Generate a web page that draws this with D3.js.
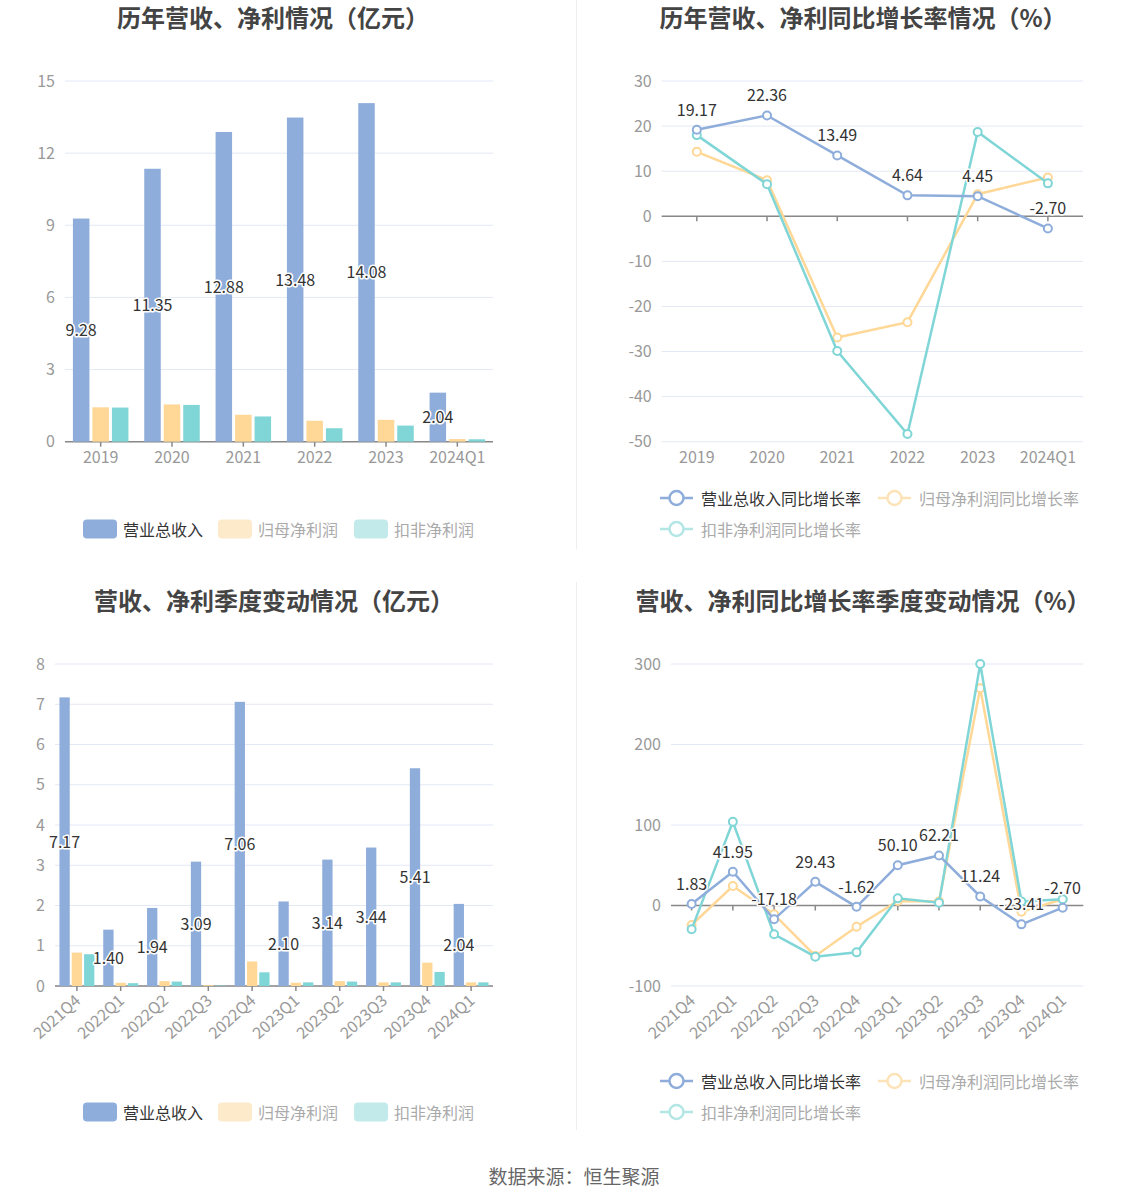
<!DOCTYPE html>
<html><head><meta charset="utf-8">
<script src="https://cdn.jsdelivr.net/npm/d3@7"></script>
<style>
body{margin:0;background:#fff;}
svg text{font-family:"Noto Sans CJK SC","Noto Sans",sans-serif;}
</style></head>
<body><svg id="c" width="1148" height="1202"></svg>
<script>
// ---- data ----
const years = ["2019","2020","2021","2022","2023","2024Q1"];
const yearRevenue = [9.28, 11.35, 12.88, 13.48, 14.08, 2.04];
const yearNetProfit = [1.43, 1.55, 1.12, 0.87, 0.91, 0.11];
const yearDeductedProfit = [1.42, 1.53, 1.05, 0.56, 0.67, 0.10];
const yearRevenueGrowth = [19.17, 22.36, 13.49, 4.64, 4.45, -2.70];
const yearNetProfitGrowth = [14.3, 8.0, -26.9, -23.5, 4.9, 8.6];
const yearDeductedGrowth = [18.0, 7.1, -29.9, -48.3, 18.7, 7.3];

const quarters = ["2021Q4","2022Q1","2022Q2","2022Q3","2022Q4","2023Q1","2023Q2","2023Q3","2023Q4","2024Q1"];
const qRevenue = [7.17, 1.40, 1.94, 3.09, 7.06, 2.10, 3.14, 3.44, 5.41, 2.04];
const qNetProfit = [0.83, 0.08, 0.12, 0.02, 0.61, 0.08, 0.12, 0.09, 0.58, 0.09];
const qDeductedProfit = [0.79, 0.07, 0.11, 0.01, 0.34, 0.09, 0.11, 0.09, 0.35, 0.09];
const qRevenueGrowth = [1.83, 41.95, -17.18, 29.43, -1.62, 50.10, 62.21, 11.24, -23.41, -2.70];
const qNetProfitGrowth = [-24.2, 24.2, -11.0, -62.7, -26.3, 5.6, 5.0, 269.8, -7.7, 7.7];
const qDeductedGrowth = [-29.6, 104.1, -35.8, -63.6, -58.2, 8.9, 3.5, 300.0, 5.0, 7.7];

const yTicks1 = [0,3,6,9,12,15];
const yTicks2 = [-50,-40,-30,-20,-10,0,10,20,30];
const yTicks3 = [0,1,2,3,4,5,6,7,8];
const yTicks4 = [-100,0,100,200,300];

const barNames = ["营业总收入","归母净利润","扣非净利润"];
const lineNames = ["营业总收入同比增长率","归母净利润同比增长率","扣非净利润同比增长率"];
const titles = ["历年营收、净利情况（亿元）","历年营收、净利同比增长率情况（%）","营收、净利季度变动情况（亿元）","营收、净利同比增长率季度变动情况（%）"];
const sourceText = "数据来源：恒生聚源";

// ---- style ----
const colors = ["#8eaddb","#ffd796","#80d5d6"];
const fadedColors = ["#8eaddb","#fdeacb","#c2eaea"];
const gridColor = "#e3e8f5";
const axisTextColor = "#999";

const svg = d3.select("#c");

// dividers
svg.append("line").attr("x1",576.5).attr("x2",576.5).attr("y1",0).attr("y2",549).attr("stroke","#eee").attr("stroke-width",1);
svg.append("line").attr("x1",576.5).attr("x2",576.5).attr("y1",582).attr("y2",1130).attr("stroke","#eee").attr("stroke-width",1);

// titles
[[273,16],[863,16],[274,599],[863,599]].forEach((p,i)=>{
  svg.append("text").attr("x",p[0]).attr("y",p[1]).attr("text-anchor","middle").attr("dominant-baseline","central")
    .attr("font-size",24).attr("font-weight","bold").attr("fill","#444").text(titles[i]);
});
svg.append("text").attr("x",574).attr("y",1175).attr("text-anchor","middle").attr("dominant-baseline","central")
  .attr("font-size",19).attr("fill","#666").text(sourceText);

function drawAxes(g, x, y, ticks, x0, x1, rotate, yBot){
  ticks.forEach(t=>{
    g.append("line").attr("x1",x0).attr("x2",x1).attr("y1",y(t)).attr("y2",y(t)).attr("stroke",gridColor).attr("stroke-width",1);
  });
  const yAxis = d3.axisLeft(y).tickValues(ticks).tickSize(0).tickPadding(10).tickFormat(d=>String(d));
  const ya = g.append("g").attr("transform",`translate(${x0},0)`).call(yAxis);
  ya.select(".domain").remove();
  ya.selectAll("text").attr("fill",axisTextColor).attr("font-size",16).style("font-family","'Noto Sans CJK SC',sans-serif");
  // axis line with ticks at zero
  const xAxis = d3.axisBottom(x).tickSize(5).tickFormat("");
  const xa = g.append("g").attr("transform",`translate(0,${y(0)})`).call(xAxis);
  xa.select(".domain").attr("stroke","#888").attr("stroke-width",1.5).attr("d",`M${x0},0H${x1}`);
  xa.selectAll(".tick line").attr("stroke","#888").attr("stroke-width",1.5);
  // labels at the bottom of the plot
  const lab = g.append("g").attr("transform",`translate(0,${yBot})`).call(d3.axisBottom(x).tickSize(0).tickPadding(rotate?0:10));
  lab.select(".domain").remove();
  lab.selectAll("text").attr("fill",axisTextColor).attr("font-size",16).style("font-family","'Noto Sans CJK SC',sans-serif");
  if(rotate){
    lab.selectAll("text").attr("text-anchor","end").attr("y",0).attr("dy","0.35em")
      .attr("transform","translate(1,12) rotate(-42)");
  }
}

function labelText(g, xp, yp, txt){
  g.append("text").attr("x",xp).attr("y",yp).attr("text-anchor","middle").attr("dominant-baseline","central")
    .attr("font-size",16).attr("fill","#333").attr("stroke","#fff").attr("stroke-width",3).attr("paint-order","stroke")
    .attr("stroke-linejoin","round").text(txt);
}

function barChart(cats, series, ticks, x0, x1, yTop, yBot, maxV, bw, gap, rotate){
  const g = svg.append("g");
  const x = d3.scaleBand().domain(cats).range([x0,x1]).padding(0);
  const y = d3.scaleLinear().domain([0,maxV]).range([yBot,yTop]);
  drawAxes(g,x,y,ticks,x0,x1,rotate,yBot);
  const total = 3*bw+2*gap;
  series.forEach((s,si)=>{
    g.selectAll(null).data(s).enter().append("rect")
      .attr("x",(d,i)=>x(cats[i])+x.bandwidth()/2-total/2+si*(bw+gap))
      .attr("y",d=>y(d)).attr("width",bw).attr("height",d=>y(0)-y(d)).attr("fill",colors[si]);
  });
  series[0].forEach((d,i)=>{
    labelText(g, x(cats[i])+x.bandwidth()/2-total/2+bw/2, (y(d)+y(0))/2 - 1, d.toFixed(2));
  });
}

function lineChart(cats, series, ticks, x0, x1, yTop, yBot, minV, maxV, rotate){
  const g = svg.append("g");
  const x = d3.scaleBand().domain(cats).range([x0,x1]).padding(0);
  const y = d3.scaleLinear().domain([minV,maxV]).range([yBot,yTop]);
  drawAxes(g,x,y,ticks,x0,x1,rotate,yBot);
  const cx = i=>x(cats[i])+x.bandwidth()/2;
  const line = d3.line().x((d,i)=>cx(i)).y(d=>y(d));
  [1,2,0].forEach(si=>{
    const s = series[si];
    g.append("path").datum(s).attr("d",line).attr("fill","none").attr("stroke",colors[si]).attr("stroke-width",2.5);
    g.selectAll(null).data(s).enter().append("circle").attr("cx",(d,i)=>cx(i)).attr("cy",d=>y(d)).attr("r",4)
      .attr("fill","#fff").attr("stroke",colors[si]).attr("stroke-width",2);
  });
  series[0].forEach((d,i)=>labelText(g, cx(i), y(d)-21, d.toFixed(2)));
}

function barLegend(yc){
  const xs = [[83,123],[218,258],[354,394]];
  barNames.forEach((n,i)=>{
    svg.append("rect").attr("x",xs[i][0]).attr("y",yc-9.5).attr("width",34).attr("height",19).attr("rx",4).attr("fill",fadedColors[i]);
    svg.append("text").attr("x",xs[i][1]).attr("y",yc).attr("dominant-baseline","central").attr("font-size",16)
      .attr("fill",i===0?"#333":"#aaa").text(n);
  });
}
function lineLegend(y1,y2){
  const pos = [[660,y1],[878,y1],[660,y2]];
  const lc = [colors[0],"#fde3b8","#b5e6e6"];
  lineNames.forEach((n,i)=>{
    const [px,py] = pos[i];
    const c = lc[i];
    svg.append("line").attr("x1",px).attr("x2",px+33).attr("y1",py).attr("y2",py).attr("stroke",c).attr("stroke-width",2.5);
    svg.append("circle").attr("cx",px+16.5).attr("cy",py).attr("r",7).attr("fill","#fff").attr("stroke",c).attr("stroke-width",2.5);
    svg.append("text").attr("x",px+41).attr("y",py).attr("dominant-baseline","central").attr("font-size",16)
      .attr("fill",i===0?"#333":"#aaa").text(n);
  });
}

barChart(years,[yearRevenue,yearNetProfit,yearDeductedProfit],yTicks1,65,493,81,441.7,15,16.5,3,false);
lineChart(years,[yearRevenueGrowth,yearNetProfitGrowth,yearDeductedGrowth],yTicks2,661.7,1083,81,441.7,-50,30,false);
barChart(quarters,[qRevenue,qNetProfit,qDeductedProfit],yTicks3,55,493,664,986,8,10.3,2,true);
lineChart(quarters,[qRevenueGrowth,qNetProfitGrowth,qDeductedGrowth],yTicks4,671,1083.3,664,986,-100,300,true);

barLegend(529);
barLegend(1112);
lineLegend(498,529);
lineLegend(1081,1112);
</script></body></html>
